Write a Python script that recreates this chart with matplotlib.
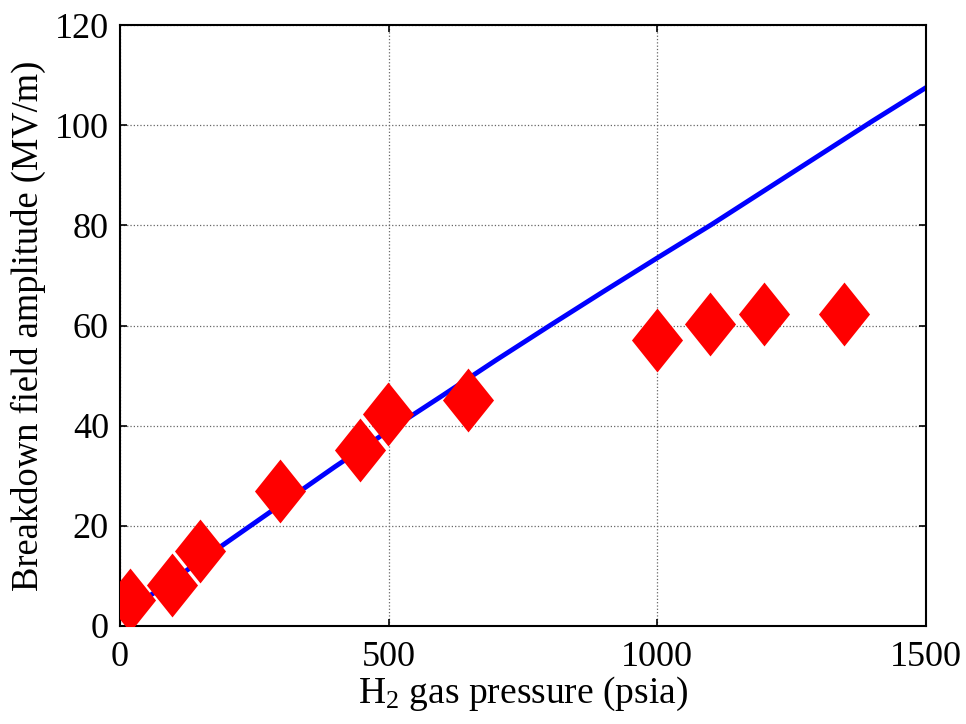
import numpy as np
import matplotlib
matplotlib.use('Agg')
import matplotlib.pyplot as plt
from matplotlib.path import Path

# measured breakdown points
pressure = [18, 96, 149, 298, 447, 499, 648, 999, 1098, 1199, 1348]
field = [5.2, 8.2, 15.0, 27.0, 35.1, 42.3, 45.1, 57.1, 60.2, 62.2, 62.2]

# model curve
curve_p = [0, 100, 200, 300, 400, 500, 600, 700, 800, 900, 1000, 1100, 1200, 1300, 1400, 1500]
curve_e = [2.0, 9.3, 16.8, 24.3, 31.8, 39.0, 46.0, 53.1, 60.0, 66.8, 73.5, 80.1, 87.0, 93.9, 100.8, 107.5]

xticks = [0, 500, 1000, 1500]
yticks = [0, 20, 40, 60, 80, 100, 120]

plt.rcParams['font.family'] = ['Liberation Serif', 'DejaVu Serif']
plt.rcParams['mathtext.default'] = 'regular'

# diamond a bit taller than wide
diamond = Path([(0, 1), (0.8, 0), (0, -1), (-0.8, 0), (0, 1)],
               [Path.MOVETO, Path.LINETO, Path.LINETO, Path.LINETO, Path.CLOSEPOLY])

fig = plt.figure(figsize=(9.66, 7.24), dpi=100)
ax = fig.add_axes([120/966, 98/724, 806/966, 601/724])

ax.plot(curve_p, curve_e, color=(0, 0, 1), linewidth=3.5, zorder=2)
ax.plot(pressure, field, linestyle='none', marker=diamond, markersize=46,
        color=(1, 0, 0), markeredgewidth=0, zorder=3)

ax.set_xlim(0, 1500)
ax.set_ylim(0, 120)
ax.set_xticks(xticks)
ax.set_yticks(yticks)
ax.grid(True, linestyle=':', color='0.4', linewidth=0.9)
ax.set_axisbelow(True)
ax.tick_params(direction='in', length=5, width=1.2, top=True, right=True,
               labelsize=26, pad=8)
ax.tick_params(axis='x', pad=11)
for s in ax.spines.values():
    s.set_linewidth(1.5)

ax.set_xlabel('H$_2$ gas pressure (psia)', fontsize=27, labelpad=0)
ax.set_ylabel('Breakdown field amplitude (MV/m)', fontsize=26.3, labelpad=6)

fig.savefig('out.png', dpi=100)
